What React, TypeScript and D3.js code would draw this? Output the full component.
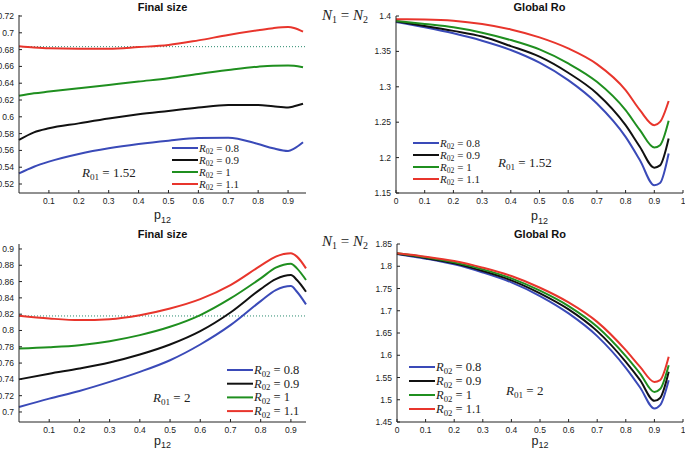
import React from "react";
import * as d3 from "d3";

const seriesLabels = ["0.8", "0.9", "1", "1.1"];
const colors = ["#3a4ab8", "#111111", "#1f8f1f", "#e8352c"];

const pTL = [0, 0.05, 0.1, 0.2, 0.3, 0.4, 0.5, 0.6, 0.7, 0.8, 0.85, 0.9, 0.92, 0.95];
const finalSize152 = [
  [0.5327, 0.5406, 0.5466, 0.5557, 0.5625, 0.5676, 0.5716, 0.5748, 0.5752, 0.5676, 0.5625, 0.5593, 0.562, 0.5696],
  [0.5724, 0.5815, 0.5863, 0.5922, 0.598, 0.603, 0.607, 0.611, 0.614, 0.614, 0.6125, 0.6112, 0.6125, 0.6155],
  [0.625, 0.628, 0.63, 0.634, 0.638, 0.642, 0.6458, 0.651, 0.6557, 0.6597, 0.6608, 0.661, 0.6607, 0.659],
  [0.684, 0.6825, 0.6815, 0.681, 0.681, 0.683, 0.6855, 0.691, 0.6974, 0.703, 0.7055, 0.7068, 0.7058, 0.7013],
];

const pR = [0, 0.1, 0.2, 0.3, 0.4, 0.5, 0.6, 0.7, 0.8, 0.85, 0.9, 0.92, 0.95];
const globalRo152 = [
  [1.3915, 1.384, 1.3755, 1.365, 1.3519, 1.334, 1.3094, 1.2764, 1.2292, 1.1962, 1.1608, 1.164, 1.2057],
  [1.3925, 1.386, 1.379, 1.371, 1.3575, 1.3425, 1.3198, 1.2906, 1.2458, 1.215, 1.1858, 1.189, 1.2269],
  [1.393, 1.3887, 1.384, 1.3764, 1.366, 1.3528, 1.333, 1.307, 1.267, 1.2387, 1.2142, 1.2175, 1.252],
  [1.3953, 1.395, 1.3934, 1.3887, 1.381, 1.3698, 1.3542, 1.332, 1.2953, 1.267, 1.2458, 1.2504, 1.28],
];

const finalSize2 = [
  [0.7061, 0.7164, 0.7258, 0.7369, 0.7492, 0.7635, 0.7828, 0.8065, 0.836, 0.8496, 0.8545, 0.8475, 0.832],
  [0.74, 0.747, 0.7533, 0.7607, 0.7705, 0.7828, 0.7992, 0.8221, 0.8508, 0.8631, 0.868, 0.8619, 0.8475],
  [0.7779, 0.7795, 0.782, 0.7869, 0.7943, 0.8045, 0.8189, 0.8393, 0.8639, 0.877, 0.882, 0.8762, 0.8619],
  [0.818, 0.8147, 0.8127, 0.8139, 0.8188, 0.827, 0.8385, 0.8557, 0.8795, 0.8906, 0.8947, 0.8906, 0.8762],
];

const globalRo2 = [
  [1.8275, 1.817, 1.8042, 1.786, 1.7637, 1.733, 1.694, 1.643, 1.5717, 1.5275, 1.4802, 1.4877, 1.544],
  [1.828, 1.8185, 1.8065, 1.7892, 1.7682, 1.739, 1.703, 1.6542, 1.5852, 1.544, 1.4975, 1.504, 1.5627],
  [1.829, 1.82, 1.8087, 1.793, 1.7727, 1.745, 1.7104, 1.6639, 1.5979, 1.5589, 1.5175, 1.524, 1.5777],
  [1.829, 1.8215, 1.8117, 1.7967, 1.778, 1.7517, 1.7187, 1.675, 1.6114, 1.5739, 1.54, 1.544, 1.5964],
];

const xTicksLeft = [0.1, 0.2, 0.3, 0.4, 0.5, 0.6, 0.7, 0.8, 0.9];
const xTicksRight = [0, 0.1, 0.2, 0.3, 0.4, 0.5, 0.6, 0.7, 0.8, 0.9, 1];
const yTicksTL = [0.52, 0.54, 0.56, 0.58, 0.6, 0.62, 0.64, 0.66, 0.68, 0.7, 0.72];
const yTicksTR = [1.15, 1.2, 1.25, 1.3, 1.35, 1.4];
const yTicksBL = [0.7, 0.72, 0.74, 0.76, 0.78, 0.8, 0.82, 0.84, 0.86, 0.88, 0.9];
const yTicksBR = [1.45, 1.5, 1.55, 1.6, 1.65, 1.7, 1.75, 1.8, 1.85];

const refTop = 0.6835;
const refBottom = 0.8178;

const SANS = "'Liberation Sans', Arial, sans-serif";
const SERIF = "'Liberation Serif', 'Times New Roman', serif";

type PanelProps = {
  title: string;
  xDomain: [number, number];
  xRange: [number, number];
  yDomain: [number, number];
  yRange: [number, number];
  xTicks: number[];
  yTicks: number[];
  xs: number[];
  data: number[][];
  ref?: number;
  titleY: number;
  labelY: number;
  legend: { x: number; y: number; dy: number; size: number };
  r01: { x: number; y: number; text: string; size: number };
};

const fmt = (v: number) => String(+v.toFixed(2));

function Sub({ base, sub, rest, x, y, size, anchor }: any) {
  return (
    <text x={x} y={y} fontFamily={SERIF} fontSize={size} textAnchor={anchor || "start"} fill="#222">
      <tspan fontStyle="italic">{base}</tspan>
      <tspan fontSize={size * 0.7} dy={size * 0.2}>{sub}</tspan>
      <tspan dy={-size * 0.2}>{rest}</tspan>
    </text>
  );
}

function Panel(p: PanelProps) {
  const x = d3.scaleLinear().domain(p.xDomain).range(p.xRange);
  const y = d3.scaleLinear().domain(p.yDomain).range(p.yRange);
  const line = d3
    .line<number>()
    .x((_, i) => x(p.xs[i]))
    .y((d) => y(d))
    .curve(d3.curveMonotoneX);
  const [x0, x1] = p.xRange;
  const [yb, yt] = p.yRange;
  const cx = (x0 + x1) / 2;
  return (
    <g>
      <text x={cx} y={p.titleY} textAnchor="middle" fontFamily={SANS} fontWeight="bold" fontSize={11} fill="#111">
        {p.title}
      </text>
      {p.ref !== undefined && (
        <line x1={x0} x2={x1} y1={y(p.ref)} y2={y(p.ref)} stroke="#2a8a6e" strokeWidth={1} strokeDasharray="1,2" />
      )}
      {p.data.map((s, i) => (
        <path key={i} d={line(s) || ""} fill="none" stroke={colors[i]} strokeWidth={2} />
      ))}
      <line x1={x0} x2={x0} y1={yb} y2={yt} stroke="#222" strokeWidth={1} />
      <line x1={x0} x2={x1} y1={yb} y2={yb} stroke="#222" strokeWidth={1} />
      {p.xTicks.map((t) => (
        <g key={"x" + t}>
          <line x1={x(t)} x2={x(t)} y1={yb} y2={yb - 3} stroke="#222" strokeWidth={1} />
          <text x={x(t)} y={yb + 11} textAnchor="middle" fontFamily={SANS} fontSize={8.5} fill="#222">
            {fmt(t)}
          </text>
        </g>
      ))}
      {p.yTicks.map((t) => (
        <g key={"y" + t}>
          <line x1={x0} x2={x0 + 3} y1={y(t)} y2={y(t)} stroke="#222" strokeWidth={1} />
          <text x={x0 - 5} y={y(t) + 3} textAnchor="end" fontFamily={SANS} fontSize={8.5} fill="#222">
            {fmt(t)}
          </text>
        </g>
      ))}
      <text x={cx} y={p.labelY} textAnchor="middle" fontFamily={SANS} fontSize={12.5} fill="#222">
        p<tspan fontSize={9} dy={3.5}>12</tspan>
      </text>
      {seriesLabels.map((lab, i) => {
        const ly = p.legend.y + i * p.legend.dy;
        return (
          <g key={"l" + i}>
            <line x1={p.legend.x} x2={p.legend.x + 26} y1={ly} y2={ly} stroke={colors[i]} strokeWidth={2} />
            <Sub base="R" sub="02" rest={" = " + lab} x={p.legend.x + 27} y={ly + 4} size={p.legend.size} />
          </g>
        );
      })}
      <Sub base="R" sub="01" rest={" = " + p.r01.text} x={p.r01.x} y={p.r01.y} size={p.r01.size} />
    </g>
  );
}

export default function App() {
  return (
    <svg width={685} height={449} style={{ position: "absolute", left: 0, top: 0, background: "#fff" }}>
      <Panel
        title="Final size"
        xDomain={[0, 0.96]}
        xRange={[19, 306]}
        yDomain={[0.5093, 0.7212]}
        yRange={[193, 15]}
        xTicks={xTicksLeft}
        yTicks={yTicksTL}
        xs={pTL}
        data={finalSize152}
        ref={refTop}
        titleY={11}
        labelY={219}
        legend={{ x: 172, y: 148, dy: 12, size: 11 }}
        r01={{ x: 82, y: 177, text: "1.52", size: 13 }}
      />
      <Panel
        title="Global Ro"
        xDomain={[0, 1]}
        xRange={[396, 683]}
        yDomain={[1.15, 1.4]}
        yRange={[193, 16]}
        xTicks={xTicksRight}
        yTicks={yTicksTR}
        xs={pR}
        data={globalRo152}
        titleY={11}
        labelY={220}
        legend={{ x: 413, y: 143, dy: 12, size: 11 }}
        r01={{ x: 498, y: 167, text: "1.52", size: 13 }}
      />
      <Panel
        title="Final size"
        xDomain={[0, 0.95]}
        xRange={[19, 306]}
        yDomain={[0.6877, 0.9061]}
        yRange={[422, 244]}
        xTicks={xTicksLeft}
        yTicks={yTicksBL}
        xs={pR}
        data={finalSize2}
        ref={refBottom}
        titleY={238}
        labelY={444.5}
        legend={{ x: 227, y: 370, dy: 13.7, size: 12.5 }}
        r01={{ x: 153, y: 402, text: "2", size: 13 }}
      />
      <Panel
        title="Global Ro"
        xDomain={[0, 1]}
        xRange={[397, 683]}
        yDomain={[1.45, 1.85]}
        yRange={[422, 244]}
        xTicks={xTicksRight}
        yTicks={yTicksBR}
        xs={pR}
        data={globalRo2}
        titleY={238}
        labelY={444.5}
        legend={{ x: 409, y: 367, dy: 14, size: 12.5 }}
        r01={{ x: 506, y: 395, text: "2", size: 13 }}
      />
      {[20, 246].map((yy) => (
        <text key={yy} x={322} y={yy} fontFamily={SERIF} fontSize={15} fill="#222">
          <tspan fontStyle="italic">N</tspan>
          <tspan fontSize={10} dy={3}>1</tspan>
          <tspan dy={-3}> = </tspan>
          <tspan fontStyle="italic">N</tspan>
          <tspan fontSize={10} dy={3}>2</tspan>
        </text>
      ))}
    </svg>
  );
}
